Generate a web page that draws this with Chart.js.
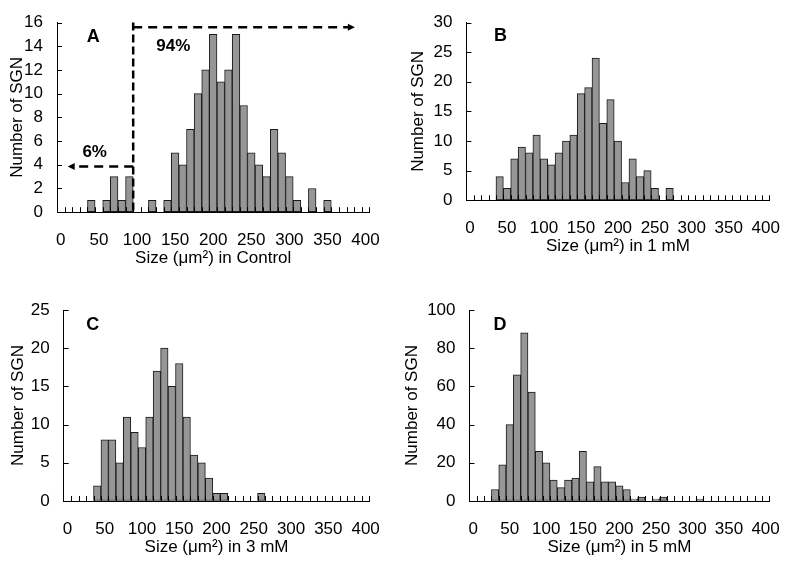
<!DOCTYPE html>
<html>
<head>
<meta charset="utf-8">
<script src="https://cdn.jsdelivr.net/npm/chart.js@4.4.0/dist/chart.umd.min.js"></script>
<style>
html,body{margin:0;padding:0;background:#fff;width:800px;height:561px;overflow:hidden;}
canvas{position:absolute;}
</style>
</head>
<body>
<canvas id="cA"></canvas>
<canvas id="cB"></canvas>
<canvas id="cC"></canvas>
<canvas id="cD"></canvas>
<script>
// ---- data ----
const sizeBins = [0,10,20,30,40,50,60,70,80,90,100,110,120,130,140,150,160,170,180,190,200,210,220,230,240,250,260,270,280,290,300,310,320,330,340,350,360,370,380,390,400];
const controlCounts = [0,0,0,0,1,0,1,3,1,3,0,0,1,0,1,5,4,7,10,12,15,11,12,15,9,5,4,3,7,5,3,1,0,2,0,1,0,0,0,0,0];
const mM1Counts     = [0,0,0,0,4,2,7,9,8,11,7,6,8,10,11,18,19,24,13,17,10,3,7,4,5,2,0,2,0,0,0,0,0,0,0,0,0,0,0,0,0];
const mM3Counts     = [0,0,0,0,2,8,8,5,11,9,7,11,17,20,15,18,11,6,5,3,1,1,0,0,0,0,1,0,0,0,0,0,0,0,0,0,0,0,0,0,0];
const mM5Counts     = [0,0,0,6,19,40,66,88,57,26,20,11,7,11,12,26,10,18,10,10,8,6,1,2,0,1,2,0,0,0,0,1,0,0,0,0,0,0,0,0,0];
const yTicksA = [0,2,4,6,8,10,12,14,16];
const yTicksB = [0,5,10,15,20,25,30];
const yTicksC = [0,5,10,15,20,25];
const yTicksD = [0,20,40,60,80,100];
const xTitles = ['Size (\u03bcm\u00b2) in Control','Size (\u03bcm\u00b2) in 1 mM','Size (\u03bcm\u00b2) in 3 mM','Size (\u03bcm\u00b2) in 5 mM'];
const yTitle = 'Number of SGN';
// panel A annotation (in data units)
const splitSize = 100;        // µm²
const aboveShare = '94%', belowShare = '6%';
const rightArrowTo = 391, rightArrowY = 15.6;
const leftArrowTo = 14, leftArrowY = 3.85;

const FONT = '"Liberation Sans", Arial, sans-serif';

const tickMarks = {
  id: 'tickMarks',
  afterDatasetsDraw(chart) {
    const {ctx, chartArea: ca, scales: {x, y}} = chart;
    const n = x.getLabels().length;
    const w = x.getPixelForValue(1) - x.getPixelForValue(0);
    ctx.save();
    ctx.strokeStyle = '#000'; ctx.lineWidth = 1;
    ctx.beginPath();
    for (let i = 0; i < n; i++) {
      const px = Math.round(x.getPixelForValue(i) + w / 2) + 0.5;
      ctx.moveTo(px, ca.bottom); ctx.lineTo(px, ca.bottom - 5);
    }
    y.ticks.forEach(t => {
      const py = Math.round(y.getPixelForValue(t.value)) + 0.5;
      ctx.moveTo(ca.left, py); ctx.lineTo(ca.left + 5, py);
    });
    ctx.stroke();
    ctx.restore();
  }
};

function letterPlugin(letter, lx, ly) {
  return {
    id: 'letter',
    afterDraw(chart) {
      const ctx = chart.ctx;
      ctx.save();
      ctx.fillStyle = '#000';
      ctx.font = 'bold 18px ' + FONT;
      ctx.textAlign = 'center'; ctx.textBaseline = 'middle';
      ctx.fillText(letter, lx, ly);
      ctx.restore();
    }
  };
}

const splitAnnot = {
  id: 'splitAnnot',
  afterDraw(chart) {
    const {ctx, scales: {x, y}} = chart;
    const w = x.getPixelForValue(1) - x.getPixelForValue(0);
    const xs = v => x.getPixelForValue(0) - w / 2 + (v / 10) * w;
    const sx = xs(splitSize);
    ctx.save();
    ctx.strokeStyle = '#000'; ctx.fillStyle = '#000';
    ctx.lineWidth = 2.5;
    ctx.setLineDash([8, 4]);
    ctx.beginPath();
    ctx.moveTo(sx, y.getPixelForValue(y.max)); ctx.lineTo(sx, y.getPixelForValue(0));
    ctx.stroke();
    ctx.setLineDash([9, 6]);
    const ry = y.getPixelForValue(rightArrowY), rx = xs(rightArrowTo);
    ctx.beginPath(); ctx.moveTo(sx, ry); ctx.lineTo(rx - 6, ry); ctx.stroke();
    const ly = y.getPixelForValue(leftArrowY), lx = xs(leftArrowTo);
    ctx.beginPath(); ctx.moveTo(sx, ly); ctx.lineTo(lx + 6, ly); ctx.stroke();
    ctx.setLineDash([]);
    ctx.beginPath(); ctx.moveTo(rx, ry); ctx.lineTo(rx - 7, ry - 3.5); ctx.lineTo(rx - 7, ry + 3.5); ctx.closePath(); ctx.fill();
    ctx.beginPath(); ctx.moveTo(lx, ly); ctx.lineTo(lx + 7, ly - 3.5); ctx.lineTo(lx + 7, ly + 3.5); ctx.closePath(); ctx.fill();
    ctx.font = 'bold 17px ' + FONT;
    ctx.textAlign = 'center'; ctx.textBaseline = 'middle';
    ctx.fillText(aboveShare, 173.3, 46.3);
    ctx.fillText(belowShare, 94.7, 152.5);
    ctx.restore();
  }
};

function panel(id, g, counts, yTicks, xTitle, plugins) {
  const canvas = document.getElementById(id);
  canvas.width = g.w; canvas.height = g.h;
  canvas.style.left = g.x + 'px'; canvas.style.top = g.y + 'px';
  canvas.style.width = g.w + 'px'; canvas.style.height = g.h + 'px';
  const a = g.area;
  const TH = 17 * 1.2 / 2;
  const padL = g.yTitleX - TH;
  const Hx = 56.2;
  new Chart(canvas, {
    type: 'bar',
    data: {
      labels: sizeBins.map(String),
      datasets: [{
        data: counts.map(v => v === 0 ? null : v),
        backgroundColor: '#969696',
        borderColor: '#1a1a1a',
        borderWidth: 1,
        borderSkipped: false,
        barPercentage: 1,
        categoryPercentage: 1
      }]
    },
    options: {
      responsive: false,
      animation: false,
      devicePixelRatio: 1,
      layout: {padding: {left: padL, top: a.t, right: g.w - a.r, bottom: g.h - a.b - Hx}},
      plugins: {legend: {display: false}, tooltip: {enabled: false}},
      scales: {
        x: {
          type: 'category',
          offset: true,
          grid: {display: true, drawOnChartArea: false, drawTicks: false, offset: true},
          border: {display: true, color: '#000', width: 1},
          ticks: {
            autoSkip: false, maxRotation: 0, minRotation: 0, padding: 20,
            color: '#000', font: {family: FONT, size: 17, lineHeight: 1},
            callback: function (v, i) { return i % 5 === 0 ? this.getLabelForValue(v) : ''; }
          },
          title: {display: true, text: xTitle, color: '#000', font: {family: FONT, size: 17}, padding: 0},
          afterFit: s => { s.height = Hx; }
        },
        y: {
          min: yTicks[0], max: yTicks[yTicks.length - 1],
          grid: {display: true, drawOnChartArea: false, drawTicks: false},
          border: {display: true, color: '#000', width: 1},
          ticks: {stepSize: yTicks[1] - yTicks[0], padding: 14, color: '#000', font: {family: FONT, size: 17, lineHeight: 1}},
          title: {display: true, text: yTitle, color: '#000', font: {family: FONT, size: 17}, padding: 0},
          afterFit: s => { s.width = a.l - padL; }
        }
      }
    },
    plugins: [tickMarks].concat(plugins)
  });
}

panel('cA', {x: 0, y: 0, w: 400, h: 280, yTitleX: 17.8, area: {l: 57, r: 377.7, t: 20.5, b: 212.2}},
  controlCounts, yTicksA, xTitles[0], [splitAnnot, letterPlugin('A', 93.3, 36.7)]);
panel('cB', {x: 400, y: 0, w: 400, h: 280, yTitleX: 18, area: {l: 66.4, r: 387.3, t: 9, b: 200.3}},
  mM1Counts, yTicksB, xTitles[1], [letterPlugin('B', 100.5, 36.3)]);
panel('cC', {x: 0, y: 280, w: 400, h: 281, yTitleX: 18, area: {l: 63.7, r: 384, t: 30, b: 221}},
  mM3Counts, yTicksC, xTitles[2], [letterPlugin('C', 92.8, 45.3)]);
panel('cD', {x: 400, y: 280, w: 400, h: 281, yTitleX: 12.8, area: {l: 69.5, r: 381, t: 30, b: 221}},
  mM5Counts, yTicksD, xTitles[3], [letterPlugin('D', 100, 45.3)]);
</script>
</body>
</html>
